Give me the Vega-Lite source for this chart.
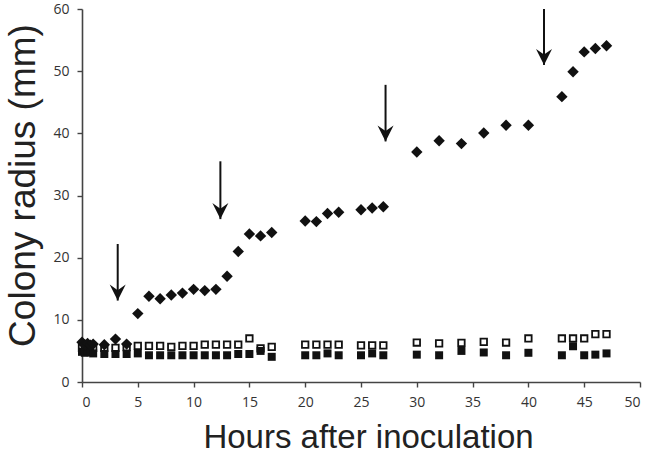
{
  "$schema": "https://vega.github.io/schema/vega-lite/v6.json",
  "autosize": {"type": "none"},
  "padding": {"left": 82, "top": 9, "right": 10, "bottom": 72},
  "width": 558,
  "height": 373,
  "background": "white",
  "config": {
    "view": {"stroke": null},
    "axis": {
      "grid": false,
      "domainColor": "#444444",
      "domainWidth": 1.6,
      "tickColor": "#444444",
      "tickWidth": 1.4,
      "tickSize": 5,
      "labelFont": "Open Sans",
      "labelFontSize": 14,
      "labelColor": "#333333",
      "titleFont": "Liberation Sans",
      "titleFontWeight": "normal",
      "titleColor": "#222222"
    }
  },
  "datasets": {
    "points": [
      {"hour": 0, "radius": 5.5, "series": "open"},
      {"hour": 0.25, "radius": 5.6, "series": "open"},
      {"hour": 0.5, "radius": 5.5, "series": "open"},
      {"hour": 0.75, "radius": 5.6, "series": "open"},
      {"hour": 1, "radius": 5.5, "series": "open"},
      {"hour": 2, "radius": 5.5, "series": "open"},
      {"hour": 3, "radius": 5.5, "series": "open"},
      {"hour": 4, "radius": 5.6, "series": "open"},
      {"hour": 5, "radius": 5.8, "series": "open"},
      {"hour": 6, "radius": 5.8, "series": "open"},
      {"hour": 7, "radius": 5.8, "series": "open"},
      {"hour": 8, "radius": 5.65, "series": "open"},
      {"hour": 9, "radius": 5.8, "series": "open"},
      {"hour": 10, "radius": 5.8, "series": "open"},
      {"hour": 11, "radius": 6.0, "series": "open"},
      {"hour": 12, "radius": 6.0, "series": "open"},
      {"hour": 13, "radius": 6.0, "series": "open"},
      {"hour": 14, "radius": 6.0, "series": "open"},
      {"hour": 15, "radius": 7.0, "series": "open"},
      {"hour": 16, "radius": 5.4, "series": "open"},
      {"hour": 17, "radius": 5.65, "series": "open"},
      {"hour": 20, "radius": 6.0, "series": "open"},
      {"hour": 21, "radius": 6.0, "series": "open"},
      {"hour": 22, "radius": 6.0, "series": "open"},
      {"hour": 23, "radius": 6.0, "series": "open"},
      {"hour": 25, "radius": 5.9, "series": "open"},
      {"hour": 26, "radius": 5.9, "series": "open"},
      {"hour": 27, "radius": 5.9, "series": "open"},
      {"hour": 30, "radius": 6.35, "series": "open"},
      {"hour": 32, "radius": 6.2, "series": "open"},
      {"hour": 34, "radius": 6.3, "series": "open"},
      {"hour": 36, "radius": 6.45, "series": "open"},
      {"hour": 38, "radius": 6.35, "series": "open"},
      {"hour": 40, "radius": 7.0, "series": "open"},
      {"hour": 43, "radius": 7.0, "series": "open"},
      {"hour": 44, "radius": 7.0, "series": "open"},
      {"hour": 45, "radius": 7.0, "series": "open"},
      {"hour": 46, "radius": 7.7, "series": "open"},
      {"hour": 47, "radius": 7.7, "series": "open"},
      {"hour": 0, "radius": 4.85, "series": "filled"},
      {"hour": 0.25, "radius": 4.7, "series": "filled"},
      {"hour": 0.5, "radius": 5.0, "series": "filled"},
      {"hour": 0.75, "radius": 4.8, "series": "filled"},
      {"hour": 1, "radius": 4.6, "series": "filled"},
      {"hour": 2, "radius": 4.5, "series": "filled"},
      {"hour": 3, "radius": 4.5, "series": "filled"},
      {"hour": 4, "radius": 4.5, "series": "filled"},
      {"hour": 5, "radius": 4.6, "series": "filled"},
      {"hour": 6, "radius": 4.3, "series": "filled"},
      {"hour": 7, "radius": 4.3, "series": "filled"},
      {"hour": 8, "radius": 4.3, "series": "filled"},
      {"hour": 9, "radius": 4.3, "series": "filled"},
      {"hour": 10, "radius": 4.3, "series": "filled"},
      {"hour": 11, "radius": 4.3, "series": "filled"},
      {"hour": 12, "radius": 4.3, "series": "filled"},
      {"hour": 13, "radius": 4.3, "series": "filled"},
      {"hour": 14, "radius": 4.5, "series": "filled"},
      {"hour": 15, "radius": 4.5, "series": "filled"},
      {"hour": 16, "radius": 5.0, "series": "filled"},
      {"hour": 17, "radius": 4.05, "series": "filled"},
      {"hour": 20, "radius": 4.3, "series": "filled"},
      {"hour": 21, "radius": 4.3, "series": "filled"},
      {"hour": 22, "radius": 4.6, "series": "filled"},
      {"hour": 23, "radius": 4.3, "series": "filled"},
      {"hour": 25, "radius": 4.3, "series": "filled"},
      {"hour": 26, "radius": 4.6, "series": "filled"},
      {"hour": 27, "radius": 4.3, "series": "filled"},
      {"hour": 30, "radius": 4.4, "series": "filled"},
      {"hour": 32, "radius": 4.3, "series": "filled"},
      {"hour": 34, "radius": 5.0, "series": "filled"},
      {"hour": 36, "radius": 4.75, "series": "filled"},
      {"hour": 38, "radius": 4.3, "series": "filled"},
      {"hour": 40, "radius": 4.7, "series": "filled"},
      {"hour": 43, "radius": 4.3, "series": "filled"},
      {"hour": 44, "radius": 5.75, "series": "filled"},
      {"hour": 45, "radius": 4.3, "series": "filled"},
      {"hour": 46, "radius": 4.4, "series": "filled"},
      {"hour": 47, "radius": 4.6, "series": "filled"},
      {"hour": 0, "radius": 6.4, "series": "diamond"},
      {"hour": 0.25, "radius": 6.0, "series": "diamond"},
      {"hour": 0.5, "radius": 6.2, "series": "diamond"},
      {"hour": 0.75, "radius": 5.9, "series": "diamond"},
      {"hour": 1, "radius": 6.1, "series": "diamond"},
      {"hour": 2, "radius": 6.0, "series": "diamond"},
      {"hour": 3, "radius": 6.9, "series": "diamond"},
      {"hour": 4, "radius": 6.1, "series": "diamond"},
      {"hour": 5, "radius": 11.0, "series": "diamond"},
      {"hour": 6, "radius": 13.8, "series": "diamond"},
      {"hour": 7, "radius": 13.4, "series": "diamond"},
      {"hour": 8, "radius": 14.0, "series": "diamond"},
      {"hour": 9, "radius": 14.3, "series": "diamond"},
      {"hour": 10, "radius": 14.9, "series": "diamond"},
      {"hour": 11, "radius": 14.7, "series": "diamond"},
      {"hour": 12, "radius": 14.9, "series": "diamond"},
      {"hour": 13, "radius": 17.0, "series": "diamond"},
      {"hour": 14, "radius": 21.0, "series": "diamond"},
      {"hour": 15, "radius": 23.8, "series": "diamond"},
      {"hour": 16, "radius": 23.5, "series": "diamond"},
      {"hour": 17, "radius": 24.05, "series": "diamond"},
      {"hour": 20, "radius": 25.9, "series": "diamond"},
      {"hour": 21, "radius": 25.8, "series": "diamond"},
      {"hour": 22, "radius": 27.1, "series": "diamond"},
      {"hour": 23, "radius": 27.3, "series": "diamond"},
      {"hour": 25, "radius": 27.7, "series": "diamond"},
      {"hour": 26, "radius": 28.0, "series": "diamond"},
      {"hour": 27, "radius": 28.2, "series": "diamond"},
      {"hour": 30, "radius": 37.0, "series": "diamond"},
      {"hour": 32, "radius": 38.8, "series": "diamond"},
      {"hour": 34, "radius": 38.35, "series": "diamond"},
      {"hour": 36, "radius": 40.05, "series": "diamond"},
      {"hour": 38, "radius": 41.3, "series": "diamond"},
      {"hour": 40, "radius": 41.3, "series": "diamond"},
      {"hour": 43, "radius": 45.9, "series": "diamond"},
      {"hour": 44, "radius": 49.9, "series": "diamond"},
      {"hour": 45, "radius": 53.1, "series": "diamond"},
      {"hour": 46, "radius": 53.65, "series": "diamond"},
      {"hour": 47, "radius": 54.1, "series": "diamond"}
    ],
    "arrows": [
      {"hour": 3.2, "top": 22.2, "tip": 13.1},
      {"hour": 12.4, "top": 35.5, "tip": 26.2},
      {"hour": 27.2, "top": 47.8, "tip": 38.7},
      {"hour": 41.4, "top": 60, "tip": 51.0}
    ]
  },
  "layer": [
    {
      "data": {"name": "points"},
      "transform": [{"filter": "datum.series === 'open'"}],
      "mark": {"type": "point", "shape": "square", "filled": true, "fill": "white", "stroke": "#111111", "strokeWidth": 1.8, "size": 42, "opacity": 1},
      "encoding": {
        "x": {"field": "hour", "type": "quantitative", "scale": {"domain": [0, 50], "nice": false},
          "axis": {"values": [0,5,10,15,20,25,30,35,40,45,50], "title": "Hours after inoculation", "labelPadding": 8, "titleFontSize": 33, "titleBaseline": "alphabetic", "titleX": 286, "titleY": 65}},
        "y": {"field": "radius", "type": "quantitative", "scale": {"domain": [0, 60], "nice": false},
          "axis": {"values": [0,10,20,30,40,50,60], "title": "Colony radius (mm)", "labelPadding": 8, "titleFontSize": 37, "titleBaseline": "alphabetic", "titleAngle": 270, "titleX": -48, "titleY": 176}}
      }
    },
    {
      "data": {"name": "points"},
      "transform": [{"filter": "datum.series === 'filled'"}],
      "mark": {"type": "point", "shape": "square", "filled": true, "color": "#111111", "size": 64, "opacity": 1},
      "encoding": {
        "x": {"field": "hour", "type": "quantitative"},
        "y": {"field": "radius", "type": "quantitative"}
      }
    },
    {
      "data": {"name": "points"},
      "transform": [{"filter": "datum.series === 'diamond'"}],
      "mark": {"type": "point", "shape": "diamond", "filled": true, "color": "#111111", "size": 130, "opacity": 1},
      "encoding": {
        "x": {"field": "hour", "type": "quantitative"},
        "y": {"field": "radius", "type": "quantitative"}
      }
    },
    {
      "data": {"name": "arrows"},
      "mark": {"type": "rule", "color": "#111111", "strokeWidth": 2},
      "encoding": {
        "x": {"field": "hour", "type": "quantitative"},
        "y": {"field": "top", "type": "quantitative"},
        "y2": {"field": "tip"}
      }
    },
    {
      "data": {"name": "arrows"},
      "mark": {"type": "point", "shape": "M0,0L-1,-2L0,-1.3L1,-2Z", "filled": true, "color": "#111111", "size": 256, "opacity": 1},
      "encoding": {
        "x": {"field": "hour", "type": "quantitative"},
        "y": {"field": "tip", "type": "quantitative"}
      }
    }
  ]
}
